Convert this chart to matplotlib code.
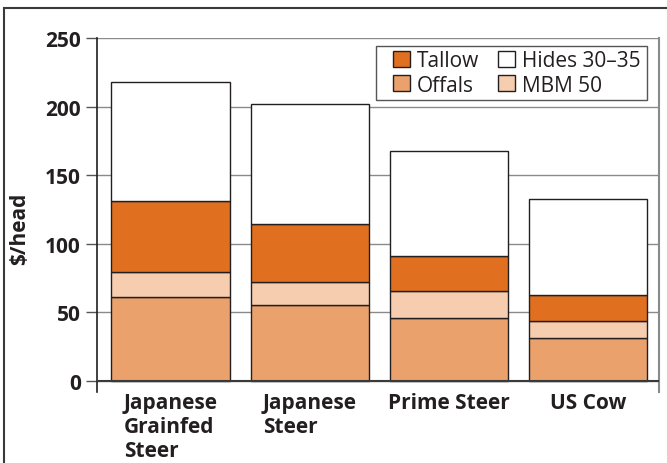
import matplotlib.pyplot as plt
from matplotlib.patches import Rectangle
import numpy as np

plt.rcParams['font.family'] = ['Open Sans', 'DejaVu Sans']

# values in $/head
cattle = ['Japanese\nGrainfed\nSteer', 'Japanese\nSteer', 'Prime Steer', 'US Cow']
offals = [61.0, 55.2, 45.9, 31.3]
mbm50 = [18.2, 17.2, 19.9, 12.2]
tallow = [51.8, 41.8, 25.5, 18.9]
hides = [87.2, 87.5, 76.1, 70.5]

c_tallow = '#e0701f'
c_offals = '#eba16c'
c_mbm = '#f6cdae'
edge = '#231f20'
txt = '#231f20'

fig = plt.figure(figsize=(6.67, 4.64), dpi=100)
ax = fig.add_axes([97/667, 1-393/464, 562/667, 354/464])

# frame round the whole figure (cut at right and bottom as in the source)
fig.add_artist(Rectangle((4/667, -0.1), 1.2, 1-9/464+0.1, transform=fig.transFigure,
                         fill=False, edgecolor='#3a3a3a', linewidth=1.5))

x = np.arange(len(cattle))
w = 0.853
b1 = np.array(offals)
b2 = b1 + np.array(mbm50)
b3 = b2 + np.array(tallow)

h_off = ax.bar(x, offals, w, color=c_offals, edgecolor=edge, linewidth=1, zorder=3)
h_mbm = ax.bar(x, mbm50, w, bottom=b1, color=c_mbm, edgecolor=edge, linewidth=1, zorder=3)
h_tal = ax.bar(x, tallow, w, bottom=b2, color=c_tallow, edgecolor=edge, linewidth=1, zorder=3)
h_hid = ax.bar(x, hides, w, bottom=b3, color='white', edgecolor=edge, linewidth=1, zorder=3)

ax.set_xlim(-0.53, 3.51)
ax.set_ylim(-8, 250)
ax.set_yticks([0, 50, 100, 150, 200, 250])
ax.grid(axis='y', color='#8a8a8a', linewidth=1, zorder=0)
ax.axhline(0, color='#3a3a3a', linewidth=1.5, zorder=4)

ax.spines['bottom'].set_visible(False)
ax.spines['top'].set_visible(False)
ax.spines['left'].set_color('#231f20')
ax.spines['left'].set_linewidth(1.2)
ax.spines['right'].set_color('#8a8a8a')
ax.spines['right'].set_linewidth(1.5)

ax.tick_params(axis='y', length=8, width=1, color='#555555', pad=3.5,
               labelsize=15, labelcolor=txt)
ax.tick_params(axis='x', length=0, pad=0, labelsize=15, labelcolor=txt)
for lab in ax.get_yticklabels():
    lab.set_fontweight('bold')

ax.set_xticks(x)
ax.set_xticklabels(cattle, fontweight='bold', multialignment='left', va='top', linespacing=1.2)

ax.set_ylabel('$/head', fontsize=15, fontweight='bold', color=txt)
ax.yaxis.set_label_coords(-0.119, 0.463)

# legend box drawn by hand so the padding can differ left/right and top/bottom
ax.add_patch(Rectangle(((376-97)/562, (393-101)/354), (647-376)/562, (101-47)/354,
                       transform=ax.transAxes, facecolor='white', edgecolor='#555555',
                       linewidth=1, zorder=5))
leg = ax.legend([h_tal, h_off, h_hid, h_mbm], ['Tallow', 'Offals', 'Hides 30\u201335', 'MBM 50'],
                ncol=2, loc='upper left', bbox_to_anchor=((393-97)/562, (393-51)/354),
                fontsize=15, frameon=False, borderaxespad=0, borderpad=0,
                handlelength=0.8, handleheight=0.8, handletextpad=0.35,
                columnspacing=0.9, labelspacing=0.17)
leg.set_zorder(6)
for t in leg.get_texts():
    t.set_color(txt)

fig.savefig('out.png', dpi=100)
